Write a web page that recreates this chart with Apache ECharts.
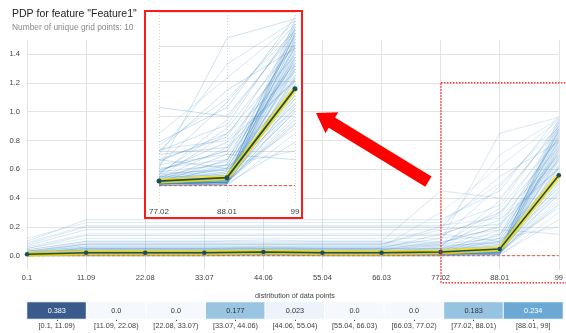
<!DOCTYPE html>
<html>
<head>
<meta charset="utf-8">
<script src="https://cdn.jsdelivr.net/npm/echarts@6/dist/echarts.min.js"></script>
<style>html,body{margin:0;padding:0;background:#fff}#c{width:566px;height:333px}</style>
</head>
<body>
<div id="c"></div>
<script>
const xTicks = ['0.1','11.09','22.08','33.07','44.06','55.04','66.03','77.02','88.01','99'];
const insetTicks = ['77.02','88.01','99'];
const pdpValues = [0.010,0.020,0.020,0.020,0.025,0.020,0.020,0.026,0.046,0.558];
const zeroRef = [0,0,0,0,0,0,0,0,0,0];
const binLabels = ['[0.1, 11.09)','[11.09, 22.08)','[22.08, 33.07)','[33.07, 44.06)','[44.06, 55.04)','[55.04, 66.03)','[66.03, 77.02)','[77.02, 88.01)','[88.01, 99]'];
const binShares = [0.383,0,0,0.177,0.023,0,0,0.183,0.234];
const iceLines = [
[0.00,0.01,0.01,0.01,0.01,0.01,0.01,0.01,0.02,0.62],
[0.00,0.00,0.00,0.00,0.01,0.00,0.00,0.00,0.01,0.45],
[0.01,0.02,0.02,0.02,0.02,0.02,0.02,0.02,0.03,0.78],
[0.00,0.01,0.01,0.01,0.02,0.01,0.01,0.01,0.02,0.35],
[0.01,0.01,0.01,0.01,0.01,0.01,0.01,0.01,0.01,0.88],
[0.00,0.02,0.02,0.02,0.03,0.02,0.02,0.02,0.04,0.52],
[0.01,0.03,0.03,0.03,0.03,0.03,0.03,0.03,0.05,0.70],
[0.00,0.00,0.00,0.00,0.00,0.00,0.00,0.00,0.00,0.30],
[0.02,0.02,0.02,0.02,0.02,0.02,0.02,0.02,0.03,0.93],
[0.00,0.01,0.01,0.01,0.01,0.01,0.01,0.01,0.02,0.57],
[0.01,0.02,0.02,0.02,0.02,0.02,0.02,0.02,0.02,0.40],
[0.00,0.01,0.01,0.01,0.01,0.01,0.01,0.01,0.03,0.66],
[0.01,0.01,0.01,0.01,0.02,0.01,0.01,0.01,0.01,0.82],
[0.00,0.02,0.02,0.02,0.02,0.02,0.02,0.02,0.04,0.48],
[0.02,0.03,0.03,0.03,0.04,0.03,0.03,0.03,0.05,0.74],
[0.00,0.00,0.00,0.00,0.01,0.00,0.00,0.00,0.01,0.25],
[0.01,0.02,0.02,0.02,0.02,0.02,0.02,0.02,0.03,0.60],
[0.00,0.01,0.01,0.01,0.01,0.01,0.01,0.01,0.02,0.85],
[0.01,0.01,0.01,0.01,0.01,0.01,0.01,0.01,0.02,0.43],
[0.00,0.02,0.02,0.02,0.03,0.02,0.02,0.02,0.03,0.69],
[0.01,0.03,0.03,0.03,0.03,0.03,0.03,0.03,0.06,0.95],
[0.00,0.01,0.01,0.01,0.01,0.01,0.01,0.01,0.01,0.55],
[0.02,0.04,0.04,0.04,0.04,0.04,0.04,0.04,0.07,0.64],
[0.00,0.02,0.02,0.02,0.02,0.02,0.02,0.02,0.02,0.38],
[0.01,0.01,0.01,0.01,0.02,0.01,0.01,0.01,0.02,0.76],
[0.01,0.04,0.04,0.04,0.05,0.04,0.04,0.04,0.08,0.50],
[0.00,0.03,0.03,0.03,0.03,0.03,0.03,0.03,0.04,0.90],
[0.02,0.05,0.05,0.05,0.05,0.05,0.05,0.05,0.09,0.58],
[0.01,0.05,0.05,0.05,0.06,0.05,0.05,0.05,0.06,0.33],
[0.00,0.06,0.06,0.06,0.06,0.06,0.06,0.06,0.10,0.72],
[0.03,0.08,0.08,0.08,0.08,0.08,0.08,0.08,0.12,0.80],
[0.05,0.12,0.12,0.12,0.12,0.12,0.12,0.12,0.18,0.67],
[0.08,0.20,0.20,0.20,0.20,0.20,0.20,0.20,0.35,0.92],
[0.10,0.25,0.25,0.25,0.25,0.25,0.25,0.25,0.45,0.97],
[0.04,0.10,0.10,0.10,0.11,0.10,0.10,0.10,0.15,0.53],
[0.06,0.15,0.15,0.15,0.15,0.15,0.15,0.15,0.28,0.86],
[0.07,0.18,0.18,0.18,0.18,0.18,0.18,0.18,0.22,0.61],
[0.12,0.23,0.23,0.23,0.23,0.23,0.23,0.23,0.50,0.89],
[0.02,0.07,0.07,0.07,0.07,0.07,0.07,0.07,0.09,0.44],
[0.05,0.14,0.14,0.14,0.14,0.14,0.14,0.14,0.30,0.75],
[0.09,0.21,0.21,0.21,0.21,0.21,0.21,0.21,0.26,0.70],
[0.03,0.09,0.09,0.09,0.09,0.09,0.09,0.09,0.20,0.83],
[0.04,0.10,0.10,0.10,0.10,0.10,0.10,0.45,0.40,0.88],
[0.02,0.06,0.06,0.06,0.06,0.06,0.06,0.30,0.62,0.94],
[0.01,0.04,0.04,0.04,0.04,0.04,0.04,0.10,0.85,0.96],
[0.03,0.08,0.08,0.08,0.08,0.08,0.08,0.20,0.55,0.79],
[0.00,0.03,0.03,0.03,0.03,0.03,0.03,0.05,0.30,0.65],
[0.02,0.05,0.05,0.05,0.05,0.05,0.05,0.15,0.10,0.47],
[0.01,0.02,0.02,0.02,0.02,0.02,0.02,0.03,0.18,0.15],
[0.00,0.01,0.01,0.01,0.01,0.01,0.01,0.01,0.12,0.20],
[0.00,0.01,0.01,0.01,0.01,0.01,0.01,0.01,0.02,0.68],
[0.01,0.02,0.02,0.02,0.02,0.02,0.02,0.02,0.03,0.84],
[0.00,0.00,0.00,0.00,0.00,0.00,0.00,0.00,0.01,0.58],
[0.01,0.01,0.01,0.01,0.01,0.01,0.01,0.01,0.02,0.73],
[0.00,0.02,0.02,0.02,0.02,0.02,0.02,0.02,0.03,0.91],
[0.01,0.03,0.03,0.03,0.03,0.03,0.03,0.03,0.04,0.46],
[0.00,0.01,0.01,0.01,0.01,0.01,0.01,0.01,0.01,0.80],
[0.01,0.02,0.02,0.02,0.02,0.02,0.02,0.02,0.02,0.63],
[0.00,0.01,0.01,0.01,0.02,0.01,0.01,0.01,0.03,0.55],
[0.02,0.03,0.03,0.03,0.03,0.03,0.03,0.03,0.05,0.87],
[0.00,0.01,0.01,0.01,0.01,0.01,0.01,0.02,0.15,0.71],
[0.01,0.02,0.02,0.02,0.02,0.02,0.02,0.04,0.22,0.82],
[0.00,0.03,0.03,0.03,0.03,0.03,0.03,0.06,0.38,0.90],
[0.02,0.04,0.04,0.04,0.04,0.04,0.04,0.08,0.25,0.60],
[0.01,0.02,0.02,0.02,0.02,0.02,0.02,0.03,0.08,0.52],
[0.00,0.01,0.01,0.01,0.01,0.01,0.01,0.02,0.05,0.42],
[0.03,0.06,0.06,0.06,0.06,0.06,0.06,0.12,0.48,0.93],
[0.01,0.02,0.02,0.02,0.02,0.02,0.02,0.02,0.06,0.77],
[0.00,0.02,0.02,0.02,0.02,0.02,0.02,0.02,0.04,0.67],
[0.01,0.03,0.03,0.03,0.03,0.03,0.03,0.05,0.14,0.86],
[0.02,0.08,0.08,0.08,0.08,0.08,0.08,0.18,0.70,0.95],
[0.00,0.01,0.01,0.01,0.01,0.01,0.01,0.01,0.03,0.36],
[0.01,0.02,0.02,0.02,0.02,0.02,0.02,0.03,0.10,0.74],
[0.00,0.00,0.00,0.00,0.00,0.00,0.00,0.01,0.02,0.61],
[0.01,0.04,0.04,0.04,0.04,0.04,0.04,0.07,0.33,0.81],
[0.00,0.01,0.01,0.01,0.01,0.01,0.01,0.01,0.02,0.50],
[0.02,0.05,0.05,0.05,0.05,0.05,0.05,0.09,0.20,0.69],
[0.01,0.01,0.01,0.01,0.01,0.01,0.01,0.02,0.04,0.88],
[0.00,0.02,0.02,0.02,0.02,0.02,0.02,0.03,0.07,0.56],
[0.01,0.03,0.03,0.03,0.03,0.03,0.03,0.04,0.12,0.79]
];

const FONT = '"Liberation Sans", Arial, sans-serif';
const LABEL = '#424242';
const GRID = '#e3e3e3';
const iceColors = ['#2b7bba','#4f9bd0','#3a87c6'];
const insetStart = xTicks.indexOf(insetTicks[0]);

const series = [];
iceLines.forEach((ln, i) => {
  series.push({
    type: 'line', xAxisIndex: 0, yAxisIndex: 0, data: ln, symbol: 'none', silent: true,
    lineStyle: { color: iceColors[i % 3], width: 0.8, opacity: 0.24 }, z: 2
  });
});
series.push({
  type: 'line', xAxisIndex: 0, yAxisIndex: 0, data: zeroRef, symbol: 'none', silent: true,
  lineStyle: { color: '#E75438', width: 1, type: [3, 2] }, z: 3
});
series.push({
  type: 'line', xAxisIndex: 0, yAxisIndex: 0, data: pdpValues, symbol: 'none', silent: true,
  lineStyle: { color: '#FEDC00', width: 5, opacity: 0.8 }, z: 4
});
series.push({
  type: 'line', xAxisIndex: 0, yAxisIndex: 0, data: pdpValues, symbol: 'circle', symbolSize: 4.5,
  silent: true, itemStyle: { color: '#1A4E5D' }, lineStyle: { color: '#1A4E5D', width: 1.5 }, z: 5
});
iceLines.forEach((ln, i) => {
  series.push({
    type: 'line', xAxisIndex: 1, yAxisIndex: 1, data: ln.slice(insetStart), symbol: 'none', silent: true,
    lineStyle: { color: iceColors[i % 3], width: 1, opacity: 0.24 }, z: 12
  });
});
series.push({
  type: 'line', xAxisIndex: 1, yAxisIndex: 1, data: zeroRef.slice(insetStart), symbol: 'none', silent: true,
  lineStyle: { color: '#E75438', width: 1, type: [3, 2] }, z: 13
});
series.push({
  type: 'line', xAxisIndex: 1, yAxisIndex: 1, data: pdpValues.slice(insetStart), symbol: 'none', silent: true,
  lineStyle: { color: '#FEDC00', width: 5, opacity: 0.85 }, z: 14
});
series.push({
  type: 'line', xAxisIndex: 1, yAxisIndex: 1, data: pdpValues.slice(insetStart), symbol: 'circle', symbolSize: 5,
  silent: true, itemStyle: { color: '#1A4E5D' }, lineStyle: { color: '#1A4E5D', width: 1.8 }, z: 15
});
const heatIndex = series.length;
series.push({
  type: 'heatmap', xAxisIndex: 2, yAxisIndex: 2, silent: true,
  data: binShares.map((v, i) => [i, 0, v]),
  itemStyle: { borderColor: '#fff', borderWidth: 1 },
  label: {
    show: true,
    formatter: p => { const v = p.value[2]; const s = v === 0 ? '0.0' : String(v); return (v > 0.2 ? '{w|' : '{d|') + s + '}'; },
    rich: { w: { color: '#fff', fontSize: 7.3, fontFamily: FONT }, d: { color: '#333', fontSize: 7.3, fontFamily: FONT } }
  }
});

const yFmt = max => v => { const k = Math.round(v * 10); return (k >= 0 && k % 2 === 0 && k <= max) ? (k / 10).toFixed(1) : ''; };

// arrow geometry (annotation)
const tip = [316, 113], tail = [428.4, 181.7];
const dx = tip[0] - tail[0], dy = tip[1] - tail[1], L = Math.hypot(dx, dy);
const u = [dx / L, dy / L], pp = [-u[1], u[0]];
const base = [tip[0] - u[0] * 18.6, tip[1] - u[1] * 18.6];
const P = (o, w) => [o[0] + pp[0] * w, o[1] + pp[1] * w];
const arrowPts = [P(tail, 6), P(base, 6), P(base, 12.3), tip, P(base, -12.3), P(base, -6), P(tail, -6)];

const chart = echarts.init(document.getElementById('c'), null, { renderer: 'canvas' });
chart.setOption({
  animation: false,
  backgroundColor: '#fff',
  textStyle: { fontFamily: FONT },
  title: {
    text: 'PDP for feature "Feature1"', subtext: 'Number of unique grid points: 10',
    left: 7, top: 3.5, itemGap: 2,
    textStyle: { fontSize: 10.5, fontWeight: 'normal', color: '#222', fontFamily: FONT, lineHeight: 12 },
    subtextStyle: { fontSize: 8.4, color: '#888', fontFamily: FONT, lineHeight: 10 }
  },
  grid: [
    { left: 27, right: 3, top: 39.6, height: 230.5 },
    { left: 159, width: 136, top: 12, height: 191, z: 11 },
    { left: 27, right: 3, top: 302, height: 17 }
  ],
  xAxis: [
    { type: 'category', gridIndex: 0, data: xTicks, boundaryGap: false,
      axisLine: { show: false }, axisTick: { show: false },
      axisLabel: { fontSize: 7.5, color: LABEL, margin: 4, fontFamily: FONT },
      splitLine: { show: true, lineStyle: { color: GRID, width: 1 } } },
    { type: 'category', gridIndex: 1, data: insetTicks, boundaryGap: false, z: 11,
      axisLine: { show: false }, axisTick: { show: false },
      axisLabel: { fontSize: 8, color: LABEL, margin: 4.5, fontFamily: FONT },
      splitLine: { show: true, lineStyle: { color: '#d6d6d6', width: 1, type: [1, 2] } } },
    { type: 'category', gridIndex: 2, data: binLabels,
      axisLine: { show: false },
      axisTick: { show: true, alignWithLabel: true, length: 2, lineStyle: { color: LABEL } },
      axisLabel: { fontSize: 7.3, color: LABEL, margin: 3, fontFamily: FONT, interval: 0 },
      splitLine: { show: false } }
  ],
  yAxis: [
    { type: 'value', gridIndex: 0, min: -0.1, max: 1.5, interval: 0.1,
      axisLine: { show: false }, axisTick: { show: false },
      axisLabel: { fontSize: 7.5, color: LABEL, margin: 7, fontFamily: FONT, formatter: yFmt(14), showMinLabel: true },
      splitLine: { show: true, lineStyle: { color: ['rgba(0,0,0,0)', GRID], width: 1 } } },
    { type: 'value', gridIndex: 1, min: -0.1, max: 1.0, interval: 0.1, z: 11,
      axisLine: { show: false }, axisTick: { show: false }, axisLabel: { show: false },
      splitLine: { show: true, lineStyle: { color: ['rgba(0,0,0,0)', '#e0e0e0'], width: 1 } } },
    { type: 'category', gridIndex: 2, data: [''], show: false }
  ],
  visualMap: {
    show: false, seriesIndex: heatIndex, dimension: 2, min: 0, max: 0.383,
    inRange: { color: ['#f5f9fe', '#cfe2f3', '#8fc0df', '#3f8bc6', '#3a5a8c'] }
  },
  graphic: [
    { type: 'rect', z: 10, silent: true, shape: { x: 145, y: 11, width: 157, height: 207 }, style: { fill: '#fff' } },
    { type: 'rect', z: 30, silent: true, shape: { x: 145, y: 11, width: 157, height: 207 },
      style: { fill: 'none', stroke: '#ff1a1a', lineWidth: 2 } },
    { type: 'rect', z: 30, silent: true, shape: { x: 441, y: 82.7, width: 140, height: 200 },
      style: { fill: 'none', stroke: '#ff3333', lineWidth: 1.5, lineDash: [1.5, 1.5] } },
    { type: 'polygon', z: 30, silent: true, shape: { points: arrowPts }, style: { fill: '#ff0000' } },
    { type: 'text', z: 30, silent: true, x: 295, y: 296,
      style: { text: 'distribution of data points', fontSize: 7.2, fill: LABEL, fontFamily: FONT, align: 'center', verticalAlign: 'middle' } }
  ],
  series: series
});
</script>
</body>
</html>
